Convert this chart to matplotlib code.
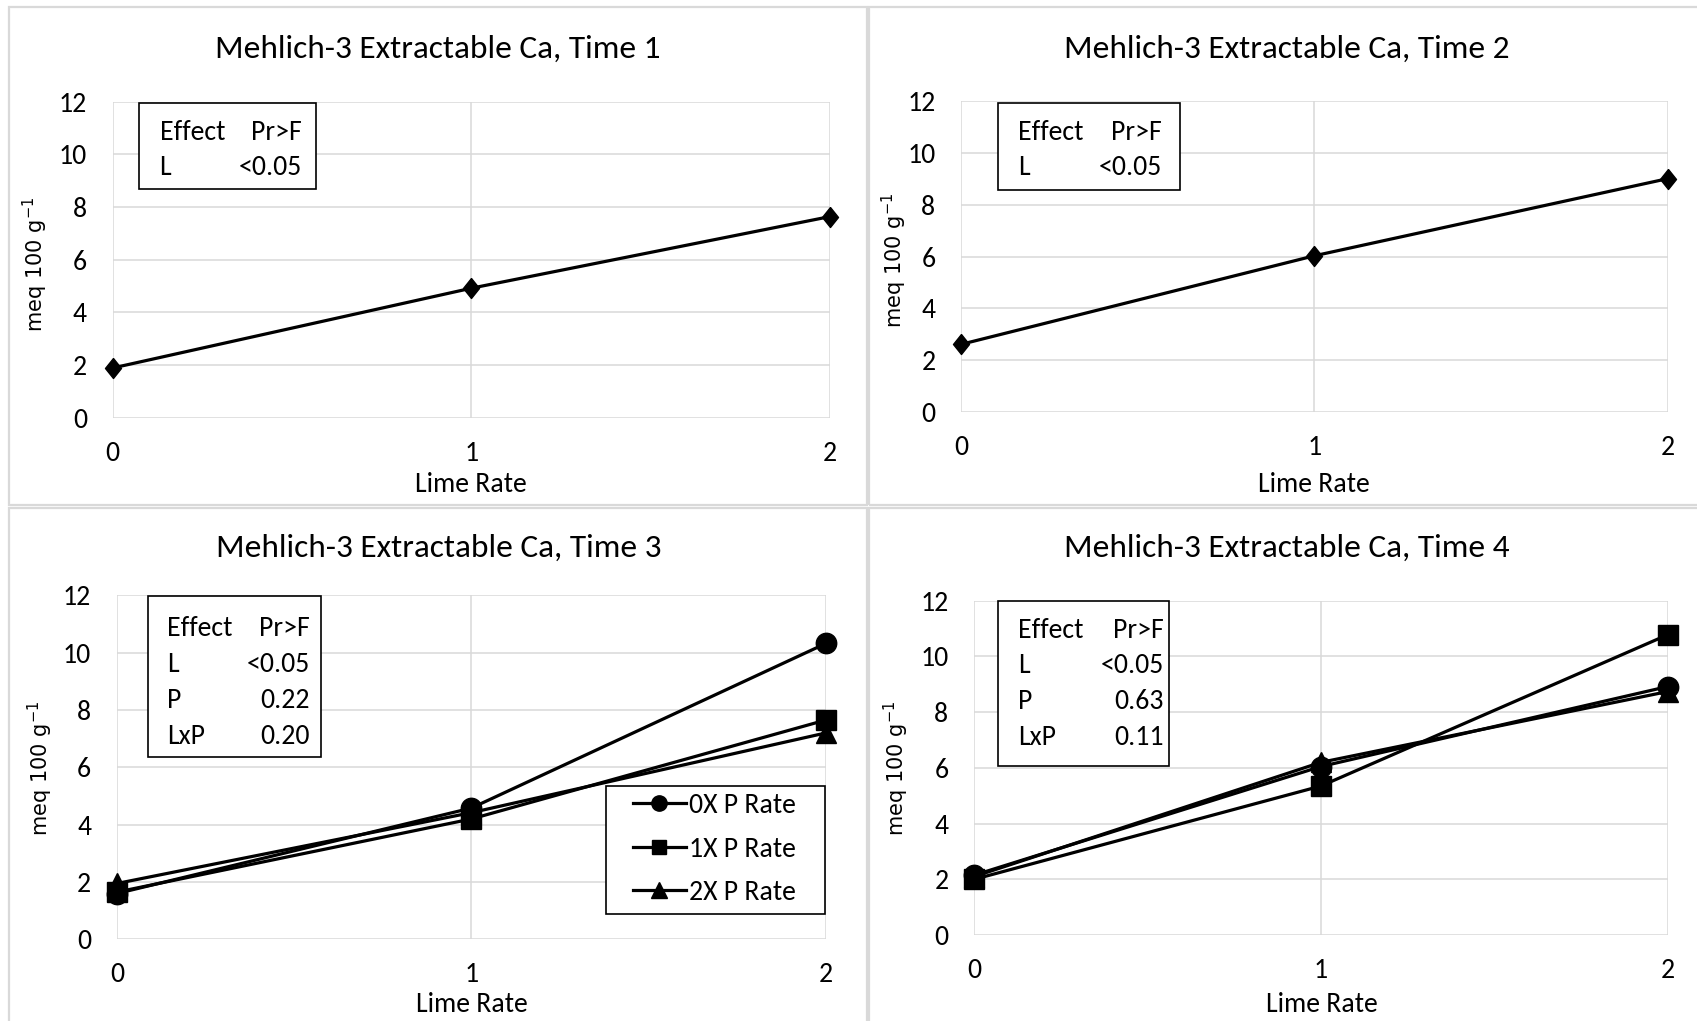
import matplotlib
matplotlib.use("Agg")
import matplotlib.pyplot as plt
from matplotlib import font_manager
from matplotlib.patches import Rectangle

# ---- data -------------------------------------------------------------
lime_rate = [0, 1, 2]

time1_ca = [1.89, 4.92, 7.64]
time2_ca = [2.62, 6.03, 9.00]

time3_0x = [1.60, 4.58, 10.32]
time3_1x = [1.65, 4.20, 7.65]
time3_2x = [1.95, 4.42, 7.20]

time4_0x = [2.15, 6.05, 8.92]
time4_1x = [2.00, 5.35, 10.78]
time4_2x = [2.10, 6.20, 8.74]

series_labels = ["0X P Rate", "1X P Rate", "2X P Rate"]

effects_l = ["L"]
pvalues_time1 = ["<0.05"]
pvalues_time2 = ["<0.05"]
effects_lp = ["L", "P", "LxP"]
pvalues_time3 = ["<0.05", "0.22", "0.20"]
pvalues_time4 = ["<0.05", "0.63", "0.11"]

titles = ["Mehlich-3 Extractable Ca, Time 1", "Mehlich-3 Extractable Ca, Time 2",
          "Mehlich-3 Extractable Ca, Time 3", "Mehlich-3 Extractable Ca, Time 4"]
x_label = "Lime Rate"
y_label = "meq 100 g$^{-1}$"
y_ticks = [0, 2, 4, 6, 8, 10, 12]

# ---- fonts ------------------------------------------------------------
available = {f.name for f in font_manager.fontManager.ttflist}
TEXT_FONT = next(n for n in ("Carlito", "Source Sans 3", "PT Sans", "DejaVu Sans")
                 if n in available)
plt.rcParams["font.family"] = [TEXT_FONT, "DejaVu Sans"]
plt.rcParams["mathtext.fontset"] = "dejavusans"

W, H = 1697, 1021
fig = plt.figure(figsize=(W / 100, H / 100), dpi=100)
fig.patch.set_facecolor("white")

GRID = "#d9d9d9"

# chart-area outlines (pixel boxes: left, top, right, bottom)
for l, t, r, b in [(8.5, 7, 866.5, 505.5), (869, 7, 1712, 505.5),
                   (8.5, 507.5, 866.5, 1035), (869, 507.5, 1712, 1035)]:
    fig.add_artist(Rectangle((l / W, 1 - b / H), (r - l) / W, (b - t) / H,
                             transform=fig.transFigure, fill=False,
                             edgecolor=GRID, linewidth=1.6))

# marker shapes
diamond = [(0, 0.5), (0.4, 0), (0, -0.5), (-0.4, 0), (0, 0.5)]
series_markers = [("o", 14.7), ("s", 14.2), ("^", 14.5)]


def make_axes(box):
    l, t, r, b = box
    ax = fig.add_axes([l / W, 1 - b / H, (r - l) / W, (b - t) / H])
    ax.set_xlim(0, 2)
    ax.set_ylim(0, 12)
    ax.set_xticks(lime_rate)
    ax.set_yticks(y_ticks)
    ax.grid(True, color=GRID, linewidth=1.1)
    ax.set_axisbelow(True)
    for s in ax.spines.values():
        s.set_visible(False)
    ax.tick_params(length=0, labelsize=20, colors="black")
    ax.tick_params(axis="y", pad=18.5)
    ax.tick_params(axis="x", pad=16.5)
    return ax


def to_axes(box, x, y):
    l, t, r, b = box
    return (x - l) / (r - l), (b - y) / (b - t)


def decorate(ax, box, title, title_xy, xlabel_xy, ylabel_xy):
    tx, ty = to_axes(box, *title_xy)
    ax.text(tx, ty, title, transform=ax.transAxes, ha="center",
            va="center", fontsize=24)
    ax.set_xlabel(x_label, fontsize=20, va="center")
    ax.xaxis.set_label_coords(*to_axes(box, *xlabel_xy))
    ax.set_ylabel(y_label, fontsize=15, family="DejaVu Sans", va="center")
    ax.yaxis.set_label_coords(*to_axes(box, *ylabel_xy))


def stats_box(ax, box, frame, text_l, text_r, baselines, effects, pvalues):
    fl, ft, fr, fb = frame
    x0, y1 = to_axes(box, fl, ft)
    x1, y0 = to_axes(box, fr, fb)
    ax.add_patch(Rectangle((x0, y0), x1 - x0, y1 - y0, transform=ax.transAxes,
                           facecolor="white", edgecolor="black", linewidth=1.2,
                           zorder=5, clip_on=False))
    xl, _ = to_axes(box, text_l, 0)
    xr, _ = to_axes(box, text_r, 0)
    rows = [("Effect", "Pr>F")] + list(zip(effects, pvalues))
    for (left, right), base in zip(rows, baselines):
        _, yb = to_axes(box, 0, base)
        ax.text(xl, yb, left, transform=ax.transAxes, ha="left", va="baseline",
                fontsize=20, zorder=6)
        ax.text(xr, yb, right, transform=ax.transAxes, ha="right", va="baseline",
                fontsize=20, zorder=6)


line_kw = dict(color="black", linewidth=2.3, clip_on=False, zorder=3,
               markerfacecolor="black", markeredgecolor="black")

# ---- Time 1 -----------------------------------------------------------
box1 = (112.6, 101.7, 830.1, 417.8)
ax1 = make_axes(box1)
ax1.plot(lime_rate, time1_ca, marker=diamond, markersize=14.4, **line_kw)
decorate(ax1, box1, titles[0], (437.5, 48.7), (470.8, 484.9), (35.7, 264))
stats_box(ax1, box1, (138.5, 102.8, 316, 189.3), 159.5, 302,
          [139.7, 175.2], effects_l, pvalues_time1)

# ---- Time 2 -----------------------------------------------------------
box2 = (961.1, 100.7, 1667.8, 412.4)
ax2 = make_axes(box2)
ax2.plot(lime_rate, time2_ca, marker=diamond, markersize=14.4, **line_kw)
decorate(ax2, box2, titles[1], (1287, 48.7), (1313.9, 484.9), (894, 260))
stats_box(ax2, box2, (997.9, 102.8, 1179.7, 190.5), 1018.4, 1161.5,
          [139.7, 175.4], effects_l, pvalues_time2)

# ---- Time 3 -----------------------------------------------------------
box3 = (116.9, 595.3, 825.8, 939.4)
ax3 = make_axes(box3)
handles = []
for vals, (mk, ms), lab in zip([time3_0x, time3_1x, time3_2x], series_markers,
                               series_labels):
    h, = ax3.plot(lime_rate, vals, marker=mk, markersize=ms, label=lab, **line_kw)
    handles.append(h)
decorate(ax3, box3, titles[2], (438.3, 547.6), (471.9, 1004.4), (40, 768))
stats_box(ax3, box3, (148.3, 596.3, 321.4, 756.5), 166.7, 309.5,
          [636.4, 672.1, 707.9, 743.6], effects_lp, pvalues_time3)

# legend with a square black frame
lf = (606, 785.5, 825, 914)
lx0, ly1 = to_axes(box3, lf[0], lf[1])
lx1, ly0 = to_axes(box3, lf[2], lf[3])
ax3.add_patch(Rectangle((lx0, ly0), lx1 - lx0, ly1 - ly0, transform=ax3.transAxes,
                        facecolor="white", edgecolor="black", linewidth=1.2,
                        zorder=5, clip_on=False))
leg = ax3.legend(handles=handles, loc="center left",
                 bbox_to_anchor=to_axes(box3, 632.5, 849),
                 frameon=False, borderpad=0, borderaxespad=0,
                 handlelength=1.92, handletextpad=0.1, labelspacing=0.66,
                 markerscale=0.75, fontsize=20)
leg.set_zorder(7)

# ---- Time 4 -----------------------------------------------------------
box4 = (974.1, 600.7, 1667.8, 935.1)
ax4 = make_axes(box4)
for vals, (mk, ms) in zip([time4_0x, time4_1x, time4_2x], series_markers):
    ax4.plot(lime_rate, vals, marker=mk, markersize=ms, **line_kw)
decorate(ax4, box4, titles[3], (1287, 547.6), (1321.5, 1004.4), (896, 768))
stats_box(ax4, box4, (997.9, 600.7, 1168.9, 766.3), 1018.4, 1163.5,
          [637.5, 673.2, 709.0, 744.7], effects_lp, pvalues_time4)

fig.savefig("out.png", dpi=100, facecolor="white")
